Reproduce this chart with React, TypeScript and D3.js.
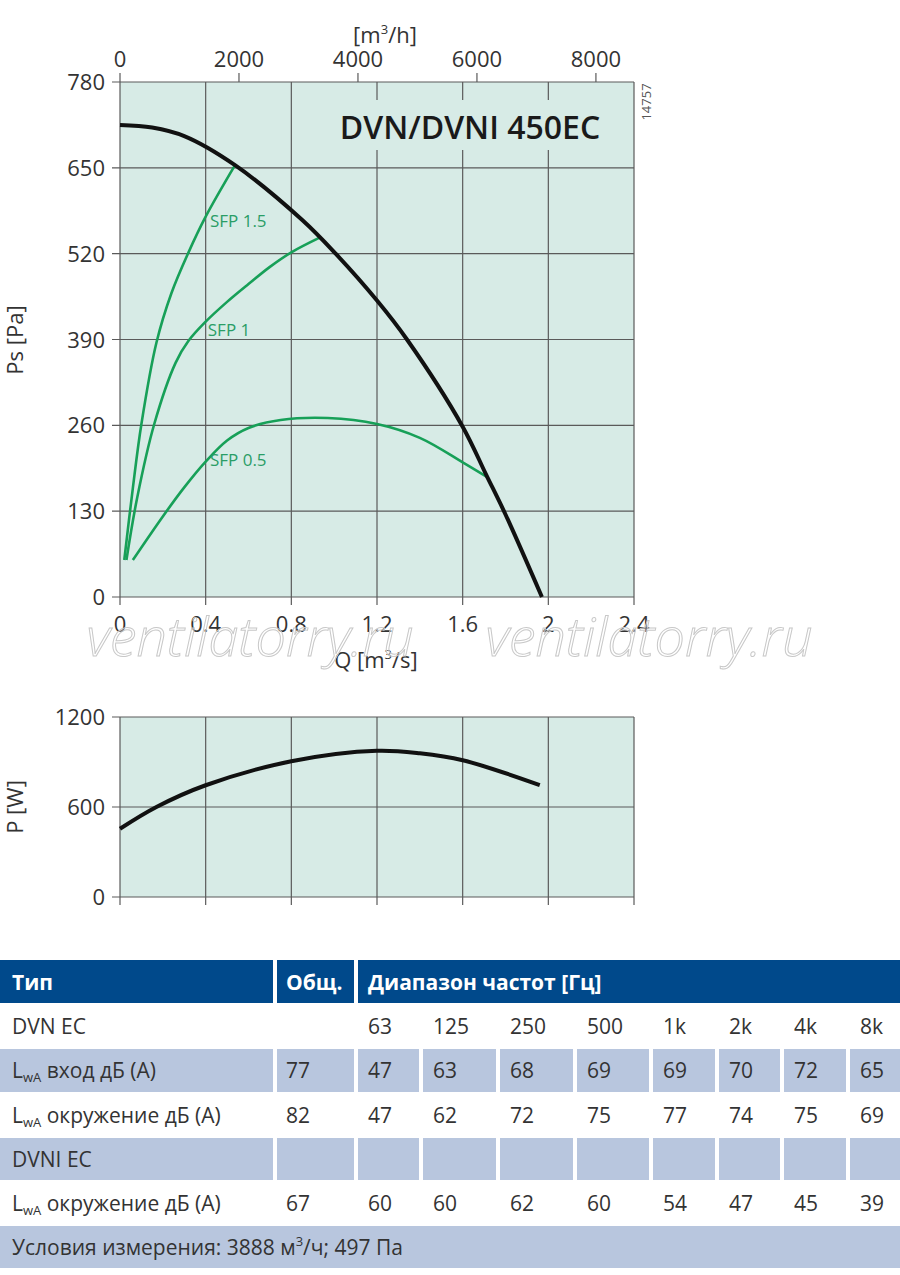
import React from "react";
import * as d3 from "d3";

// axis ticks
const qTicks = [0, 0.4, 0.8, 1.2, 1.6, 2, 2.4];
const psTicks = [0, 130, 260, 390, 520, 650, 780];
const m3hTicks = [0, 2000, 4000, 6000, 8000];
const pTicks = [0, 600, 1200];

// fan curve, [Q m3/s, Ps Pa]
const fanCurve: [number, number][] = [
  [0, 715], [0.15, 711], [0.3, 698], [0.537, 654], [0.851, 571], [1.007, 520],
  [1.2, 449], [1.34, 390], [1.6, 258], [1.71, 185], [1.8, 125], [1.97, 0],
];

// SFP lines
const sfp15: [number, number][] = [
  [0.02, 56], [0.06, 165], [0.1, 262], [0.17, 385], [0.24, 460], [0.32, 522],
  [0.4, 576], [0.537, 654],
];
const sfp1: [number, number][] = [
  [0.03, 56], [0.08, 150], [0.16, 262], [0.26, 355], [0.32, 388], [0.4, 417],
  [0.5, 447], [0.6, 474], [0.7, 500], [0.8, 522], [0.937, 545],
];
const sfp05: [number, number][] = [
  [0.06, 56], [0.2, 122], [0.3, 166], [0.4, 205], [0.5, 237], [0.6, 256],
  [0.75, 268], [0.97, 271], [1.2, 262], [1.4, 241], [1.6, 204], [1.713, 182],
];
const sfpLabels = ["SFP 1.5", "SFP 1", "SFP 0.5"];
const sfpLabelAt: [number, number][] = [[0.42, 560], [0.41, 395], [0.42, 198]];

// power curve, [Q m3/s, P W]
const powerCurve: [number, number][] = [
  [0, 455], [0.17, 600], [0.4, 745], [0.8, 905], [1.2, 975], [1.4, 958],
  [1.6, 912], [1.96, 746],
];

// sound table
const bands = ["63", "125", "250", "500", "1k", "2k", "4k", "8k"];
const inletDVN = [47, 63, 68, 69, 69, 70, 72, 65];
const surroundDVN = [47, 62, 72, 75, 77, 74, 75, 69];
const surroundDVNI = [60, 60, 62, 60, 54, 47, 45, 39];
const totals = [77, 82, 67];

const FONT = "'Open Sans', 'Noto Sans', sans-serif";
const TXT = "#333";
const GRID = "#5a5a5a";
const PLOT_BG = "#d7ebe6";
const GREEN = "#17a058";
const BLUE = "#00498b";
const LIGHT = "#b8c6de";

const x = d3.scaleLinear().domain([0, 2.4]).range([120, 634]);
const xh = d3.scaleLinear().domain([0, 2.4 * 3600]).range([120, 634]);
const y = d3.scaleLinear().domain([0, 780]).range([597, 82]);
const yp = d3.scaleLinear().domain([0, 1200]).range([897, 717]);

const psLine = d3.line<[number, number]>().x(d => x(d[0])).y(d => y(d[1])).curve(d3.curveCatmullRom.alpha(0.5));
const pLine = d3.line<[number, number]>().x(d => x(d[0])).y(d => yp(d[1])).curve(d3.curveCatmullRom.alpha(0.5));

// table columns
const colX = [0, 277, 358, 423, 500, 577, 653, 719, 784, 850, 900];
const rowY = [960, 1004, 1048, 1093, 1137, 1181, 1225, 1269];

const Lwa = ({ rest }: { rest: string }) => (
  <>
    L<tspan fontSize={13} dy={4}>wA</tspan>
    <tspan dy={-4}>{" " + rest}</tspan>
  </>
);

export default function App() {
  const [x0, x1] = x.range();
  const [yb, yt] = y.range();
  const [pb, pt] = yp.range();

  const cells = (row: number, fill: string) =>
    colX.slice(0, -1).map((cx, i) => (
      <rect key={`c${row}-${i}`} x={cx} y={rowY[row] + 1} width={colX[i + 1] - cx - (i < 9 ? 4 : 0)}
        height={rowY[row + 1] - rowY[row] - 2} fill={fill} />
    ));

  const rowText = (row: number, total: number | null, vals: (number | string)[]) => (
    <g key={`t${row}`} fontSize={21} fill={TXT}>
      {total !== null && <text x={colX[1] + 9} y={rowY[row] + 30}>{total}</text>}
      {vals.map((v, i) => (
        <text key={i} x={colX[i + 2] + 10} y={rowY[row] + 30}>{v}</text>
      ))}
    </g>
  );

  return (
    <svg width={900} height={1275} style={{ position: "absolute", left: 0, top: 0, background: "#fff" }}
      fontFamily={FONT}>
      {/* ---------- pressure chart ---------- */}
      <rect x={x0} y={yt} width={x1 - x0} height={yb - yt} fill={PLOT_BG} />
      {psTicks.map(t => (
        <line key={`hg${t}`} x1={x0 - 8} x2={x1} y1={y(t)} y2={y(t)} stroke={GRID} strokeWidth={1.2} />
      ))}
      {qTicks.map(t => (
        <line key={`vg${t}`} x1={x(t)} x2={x(t)} y1={yt} y2={yb + 8} stroke={GRID} strokeWidth={1.2} />
      ))}
      {m3hTicks.map(t => (
        <line key={`th${t}`} x1={xh(t)} x2={xh(t)} y1={yt - 9} y2={yt} stroke={GRID} strokeWidth={1.2} />
      ))}
      {/* title box */}
      <rect x={328} y={100} width={285} height={50} fill={PLOT_BG} />
      <text x={470} y={139} textAnchor="middle" fontSize={32} fontWeight={600} fill="#1a1a1a">DVN/DVNI 450EC</text>
      <text transform="translate(651,102) rotate(-90)" textAnchor="middle" fontSize={13} fill="#555">14757</text>

      {[sfp15, sfp1, sfp05].map((c, i) => (
        <path key={`sfp${i}`} d={psLine(c) ?? ""} fill="none" stroke={GREEN} strokeWidth={2.6} />
      ))}
      {sfpLabels.map((s, i) => (
        <text key={s} x={x(sfpLabelAt[i][0])} y={y(sfpLabelAt[i][1])} fontSize={17} fill="#2a9d66">{s}</text>
      ))}
      <path d={psLine(fanCurve) ?? ""} fill="none" stroke="#111" strokeWidth={4} />

      {psTicks.map(t => (
        <text key={`pl${t}`} x={105} y={y(t) + 8} textAnchor="end" fontSize={22} fill={TXT}>{t}</text>
      ))}
      {qTicks.map(t => (
        <text key={`ql${t}`} x={x(t)} y={632} textAnchor="middle" fontSize={22} fill={TXT}>{String(t)}</text>
      ))}
      {m3hTicks.map(t => (
        <text key={`hl${t}`} x={xh(t)} y={67} textAnchor="middle" fontSize={22} fill={TXT}>{t}</text>
      ))}
      <text x={385} y={43} textAnchor="middle" fontSize={22} fill={TXT}>
        [m<tspan fontSize={13} dy={-9}>3</tspan><tspan dy={9}>/h]</tspan>
      </text>
      <text x={376} y={668} textAnchor="middle" fontSize={22} fill={TXT}>
        Q [m<tspan fontSize={13} dy={-9}>3</tspan><tspan dy={9}>/s]</tspan>
      </text>
      <text transform="translate(23,340) rotate(-90)" textAnchor="middle" fontSize={22} fill={TXT}>Ps [Pa]</text>

      {/* watermark */}
      {[250, 649].map(cx => (
        <text key={`wm${cx}`} x={cx} y={656} textAnchor="middle" fontSize={54} fontStyle="italic" fontWeight={300}
          fill="#fff" fillOpacity={0.35} stroke="#c8c8c8" strokeWidth={1}>ventilatorry.ru</text>
      ))}

      {/* ---------- power chart ---------- */}
      <rect x={x0} y={pt} width={x1 - x0} height={pb - pt} fill={PLOT_BG} />
      {pTicks.map(t => (
        <line key={`phg${t}`} x1={x0 - 8} x2={x1} y1={yp(t)} y2={yp(t)} stroke={GRID} strokeWidth={1.2} />
      ))}
      {qTicks.map(t => (
        <line key={`pvg${t}`} x1={x(t)} x2={x(t)} y1={pt} y2={pb + 8} stroke={GRID} strokeWidth={1.2} />
      ))}
      <path d={pLine(powerCurve) ?? ""} fill="none" stroke="#111" strokeWidth={4} />
      {pTicks.map(t => (
        <text key={`ppl${t}`} x={105} y={yp(t) + 8} textAnchor="end" fontSize={22} fill={TXT}>{t}</text>
      ))}
      <text transform="translate(23,807) rotate(-90)" textAnchor="middle" fontSize={22} fill={TXT}>P [W]</text>

      {/* ---------- sound table ---------- */}
      <rect x={0} y={rowY[0]} width={colX[1] - 4} height={rowY[1] - rowY[0] - 1} fill={BLUE} />
      <rect x={colX[1]} y={rowY[0]} width={colX[2] - colX[1] - 4} height={rowY[1] - rowY[0] - 1} fill={BLUE} />
      <rect x={colX[2]} y={rowY[0]} width={900 - colX[2]} height={rowY[1] - rowY[0] - 1} fill={BLUE} />
      <g fontSize={21} fontWeight={700} fill="#fff">
        <text x={12} y={rowY[0] + 30}>Тип</text>
        <text x={colX[1] + 9} y={rowY[0] + 30}>Общ.</text>
        <text x={colX[2] + 10} y={rowY[0] + 30}>Диапазон частот [Гц]</text>
      </g>
      {cells(2, LIGHT)}
      {cells(4, LIGHT)}
      <rect x={0} y={rowY[6] + 1} width={900} height={rowY[7] - rowY[6] - 2} fill={LIGHT} />

      <g fontSize={21} fill={TXT}>
        <text x={12} y={rowY[1] + 30}>DVN EC</text>
        <text x={12} y={rowY[2] + 30}><Lwa rest="вход дБ (A)" /></text>
        <text x={12} y={rowY[3] + 30}><Lwa rest="окружение дБ (A)" /></text>
        <text x={12} y={rowY[4] + 30}>DVNI EC</text>
        <text x={12} y={rowY[5] + 30}><Lwa rest="окружение дБ (A)" /></text>
        <text x={12} y={rowY[6] + 30}>
          Условия измерения: 3888 м<tspan fontSize={13} dy={-9}>3</tspan><tspan dy={9}>/ч; 497 Па</tspan>
        </text>
      </g>
      {rowText(1, null, bands)}
      {rowText(2, totals[0], inletDVN)}
      {rowText(3, totals[1], surroundDVN)}
      {rowText(5, totals[2], surroundDVNI)}
    </svg>
  );
}
